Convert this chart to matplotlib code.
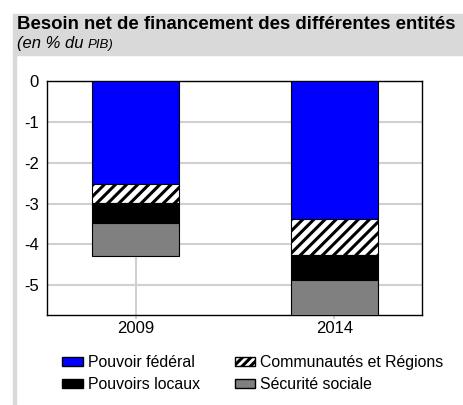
import numpy as np
import matplotlib.pyplot as plt
import matplotlib.transforms as mtransforms
from matplotlib.patches import Rectangle, Patch

plt.rcParams['font.family'] = ['Liberation Sans', 'DejaVu Sans']
plt.rcParams['axes.unicode_minus'] = False
plt.rcParams['hatch.linewidth'] = 2.2

# données (en % du PIB)
annees = ['2009', '2014']
federal = [-2.51, -3.39]
communautes = [-0.47, -0.87]
locaux = [-0.49, -0.62]
securite = [-0.82, -0.90]
yticks = [0, -1, -2, -3, -4, -5]

W, H = 463, 405
fig = plt.figure(figsize=(W / 100, H / 100), dpi=100)

# bandeau du titre et bordure gauche
gris = '#d9d9d9'
fig.patches.append(Rectangle((13 / W, 1 - 55 / H), 1, 41 / H, transform=fig.transFigure,
                             color=gris, zorder=0))
fig.patches.append(Rectangle((13 / W, 0), 3 / W, 1 - 55 / H, transform=fig.transFigure,
                             color=gris, zorder=0))
fig.text(17 / W, 1 - 29 / H, 'Besoin net de financement des différentes entités',
         fontsize=13.4, fontweight='bold', va='baseline')
t = fig.text(17 / W, 1 - 48 / H, '(en % du', fontsize=12, style='italic', va='baseline')
r = fig.canvas.get_renderer()
bb = t.get_window_extent(r)
fig.text(bb.x1 / W + 4 / W, 1 - 48 / H, 'PIB)', fontsize=9.5, style='italic', va='baseline')

ax = fig.add_axes([47 / W, (H - 315) / H, 375 / W, 234 / H])
x = np.arange(len(annees))
w = 0.44
bas = np.zeros(len(annees))
series = [
    (federal, dict(color='#0000ff')),
    (communautes, dict(color='white', hatch='///')),
    (locaux, dict(color='black')),
    (securite, dict(color='#808080')),
]
for vals, st in series:
    ax.bar(x, vals, w, bottom=bas, edgecolor='black', linewidth=0.8, zorder=3, **st)
    bas = bas + np.array(vals)

ax.set_xlim(-0.445, 1.44)
ax.set_ylim(-5.73, 0)
ax.set_yticks(yticks)
ax.set_yticklabels([str(v) for v in yticks], fontsize=12)
decal = mtransforms.ScaledTranslation(0, 3 / 100, fig.dpi_scale_trans)
for lab in ax.get_yticklabels():
    lab.set_transform(lab.get_transform() + decal)
ax.set_xticks(x)
ax.set_xticklabels(annees, fontsize=12)
ax.tick_params(axis='y', length=0, pad=6)
ax.tick_params(axis='x', length=3, width=1.5, color='#d0d0d0', pad=1)
ax.grid(True, color='#d0d0d0', linewidth=1.5, zorder=0)
ax.set_axisbelow(True)
for s in ax.spines.values():
    s.set_linewidth(1)

poignees = [
    Patch(facecolor='#0000ff', edgecolor='black', label='Pouvoir fédéral'),
    Patch(facecolor='black', edgecolor='black', label='Pouvoirs locaux'),
    Patch(facecolor='white', edgecolor='black', hatch='////', label='Communautés et Régions'),
    Patch(facecolor='#808080', edgecolor='black', label='Sécurité sociale'),
]
fig.legend(handles=poignees, ncol=2, loc='upper left', bbox_to_anchor=(48 / W, 1 - 341 / H),
           frameon=False, fontsize=11.4, handlelength=1.3, handleheight=0.55,
           handletextpad=0.3, columnspacing=2.2, labelspacing=0.42)

fig.savefig('out.png', dpi=100)
